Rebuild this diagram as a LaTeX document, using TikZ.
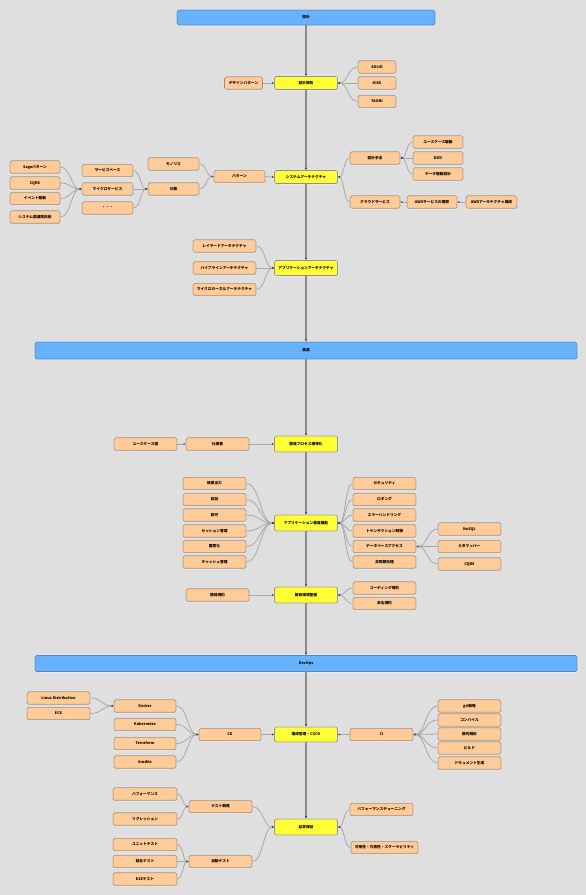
\documentclass[tikz,border=0pt]{standalone}
\usepackage{fontspec}
\setmainfont{Noto Sans CJK JP}
\usetikzlibrary{calc,arrows.meta}
\definecolor{bg}{HTML}{DFDFDF}
\definecolor{barblue}{HTML}{66B2FF}
\definecolor{barline}{HTML}{5A86B8}
\definecolor{keyyellow}{HTML}{FFFF33}
\definecolor{keyline}{HTML}{8E8EA6}
\definecolor{leaforange}{HTML}{FFCC99}
\definecolor{leafline}{HTML}{9A8E82}
\definecolor{halo}{HTML}{F0EEEA}
\definecolor{spinegray}{HTML}{8C8C8C}
\definecolor{conngray}{HTML}{A8A8A8}
\tikzset{
  box/.style={rectangle, rounded corners=1.5pt, draw, line width=0.7pt, inner sep=0pt,
    minimum height=12.5pt, font=\fontsize{3.7}{4}\selectfont\bfseries, text=black,
    preaction={draw=halo, line width=2pt}},
  bar/.style={box, fill=barblue, draw=barline, minimum height=16pt},
  key/.style={box, fill=keyyellow, draw=keyline, minimum width=63pt, minimum height=14.5pt},
  leaf/.style={box, fill=leaforange, draw=leafline, minimum width=63pt},
  spine/.style={draw=spinegray, line width=1.1pt, -{Latex[length=2.4pt,width=2.4pt,color=black!80]}},
  conn/.style={draw=conngray, line width=0.8pt, {Latex[length=2pt,width=2pt,color=black!75]}-},
}
\newcommand\tol[2]{\draw[conn] let \p1=(#1.west), \p2=(#2.east) in
  (\p1) .. controls ({(\x1+\x2)/2},\y1) and ({(\x1+\x2)/2},\y2) .. (\p2);}
\newcommand\tor[2]{\draw[conn] let \p1=(#1.east), \p2=(#2.west) in
  (\p1) .. controls ({(\x1+\x2)/2},\y1) and ({(\x1+\x2)/2},\y2) .. (\p2);}
\begin{document}
\begin{tikzpicture}[x=1pt,y=-1pt]
\fill[bg] (0,0) rectangle (586,895);
\useasboundingbox (0,0) rectangle (586,895);

% ---------------- 設計 ----------------
\node[bar, minimum width=258pt, minimum height=15pt] (d0) at (306,17.5) {設計};
\node[key, minimum height=13pt] (dp) at (306,83) {設計原則};
\node[leaf, minimum width=38pt] (dpat) at (243.5,83) {デザインパターン};
\node[leaf, minimum width=38pt] (solid) at (377,67) {SOLID};
\node[leaf, minimum width=38pt] (kiss) at (377,83) {KISS};
\node[leaf, minimum width=38pt] (yagni) at (377,101.5) {YAGNI};

\node[key, minimum height=13pt] (sa) at (306,177) {システムアーキテクチャ};
\node[leaf, minimum width=51pt] (pat) at (239.5,176.5) {パターン};
\node[leaf, minimum width=51pt] (mono) at (173.5,164) {モノリス};
\node[leaf, minimum width=51pt] (dist) at (173.5,189) {分散};
\node[leaf, minimum width=51pt] (svc) at (107.5,170.5) {サービスベース};
\node[leaf, minimum width=51pt] (micro) at (107.5,189) {マイクロサービス};
\node[leaf, minimum width=51pt] (etc) at (107.5,208) {・・・};
\node[leaf, minimum width=50pt] (saga) at (35,167) {Sagaパターン};
\node[leaf, minimum width=50pt] (cqrsa) at (35,183) {CQRS};
\node[leaf, minimum width=50pt] (event) at (35,198.5) {イベント駆動};
\node[leaf, minimum width=50pt] (renkei) at (35,217) {システム間連携技術};
\node[leaf, minimum width=50pt] (method) at (375,158) {設計手法};
\node[leaf, minimum width=50pt] (ucd) at (438,142) {ユースケース駆動};
\node[leaf, minimum width=50pt] (ddd) at (438,158) {DDD};
\node[leaf, minimum width=50pt] (datad) at (438,174) {データ駆動設計};
\node[leaf, minimum width=50pt] (cloud) at (375,202) {クラウドサービス};
\node[leaf, minimum width=50pt] (aws1) at (432,202) {AWSサービスの理解};
\node[leaf, minimum width=51pt] (aws2) at (491.5,202) {AWSアーキテクチャ構成};

\node[key, minimum height=15pt] (aa) at (306,268) {アプリケーションアーキテクチャ};
\node[leaf] (layer) at (224.5,246) {レイヤードアーキテクチャ};
\node[leaf] (pipe) at (224.5,268) {パイプラインアーキテクチャ};
\node[leaf] (kernel) at (224.5,289.5) {マイクロカーネルアーキテクチャ};

% ---------------- 実装 ----------------
\node[bar, minimum width=542pt, minimum height=17pt] (i0) at (306,350.5) {実装};
\node[key, minimum height=16pt] (proc) at (306,444) {開発プロセス標準化};
\node[leaf] (spec) at (217.5,444) {仕様書};
\node[leaf] (ucdiag) at (145.5,444) {ユースケース図};

\node[key, minimum height=16pt] (base) at (306,523) {アプリケーション基盤機能};
\node[leaf] (l1) at (214.5,483.5) {帳票出力};
\node[leaf] (l2) at (214.5,499.5) {認証};
\node[leaf] (l3) at (214.5,515) {認可};
\node[leaf] (l4) at (214.5,531) {セッション管理};
\node[leaf] (l5) at (214.5,546.5) {国際化};
\node[leaf] (l6) at (214.5,562) {キャッシュ管理};
\node[leaf] (r1) at (384.5,483.5) {セキュリティ};
\node[leaf] (r2) at (384.5,499.5) {ロギング};
\node[leaf] (r3) at (384.5,515) {エラーハンドリング};
\node[leaf] (r4) at (384.5,531) {トランザクション制御};
\node[leaf] (r5) at (384.5,546.5) {データベースアクセス};
\node[leaf] (r6) at (384.5,562) {非同期処理};
\node[leaf] (nosql) at (469.5,529) {NoSQL};
\node[leaf] (orm) at (469.5,546.5) {O/Rマッパー};
\node[leaf] (cqrsb) at (469.5,564) {CQRS};

\node[key, minimum height=16pt] (env) at (306,595) {開発環境整備};
\node[leaf] (rule) at (217.5,595) {開発規約};
\node[leaf] (coding) at (384.5,588) {コーディング規約};
\node[leaf] (naming) at (384.5,603.5) {命名規約};

% ---------------- DevOps ----------------
\node[bar, minimum width=542pt, minimum height=16pt] (o0) at (306,663.5) {DevOps};
\node[key, minimum height=15pt] (cicd) at (306,734.5) {構成管理・CI/CD};
\node[leaf, minimum width=62pt] (cd) at (230,734.5) {CD};
\node[leaf, minimum width=62pt] (docker) at (145,706) {Docker};
\node[leaf, minimum width=62pt] (k8s) at (145,724.5) {Kubernetes};
\node[leaf, minimum width=62pt] (tf) at (145,743.5) {Terraform};
\node[leaf, minimum width=62pt] (ans) at (145,762) {Ansible};
\node[leaf] (linux) at (58.5,698) {Linux Distribution};
\node[leaf] (ecs) at (58.5,713.5) {ECS};
\node[leaf] (ci) at (381.5,734.5) {CI};
\node[leaf] (git) at (469.5,706) {git戦略};
\node[leaf] (comp) at (469.5,720) {コンパイル};
\node[leaf] (stat) at (469.5,734) {静的解析};
\node[leaf] (build) at (469.5,748) {ビルド};
\node[leaf] (doc) at (469.5,763) {ドキュメント生成};

\node[key, minimum height=16pt] (qa) at (306,827) {品質保証};
\node[leaf] (tstrat) at (220.5,806.5) {テスト戦略};
\node[leaf, minimum width=64pt] (perf) at (145,794) {パフォーマンス};
\node[leaf, minimum width=64pt] (regr) at (145,819) {リグレッション};
\node[leaf] (auto) at (220.5,861.5) {自動テスト};
\node[leaf, minimum width=64pt] (unit) at (145,844.5) {ユニットテスト};
\node[leaf, minimum width=64pt] (integ) at (145,861.5) {結合テスト};
\node[leaf, minimum width=64pt] (e2e) at (145,879) {E2Eテスト};
\node[leaf] (tune) at (381.5,809.5) {パフォーマンスチューニング};
\node[leaf, minimum width=67pt] (avail) at (384.5,847.5) {可用性・冗長性・スケーラビリティ};

% ---------------- connectors ----------------
\draw[spine] (d0) -- (dp);
\draw[spine] (dp) -- (sa);
\draw[spine] (sa) -- (aa);
\draw[spine] (aa) -- (i0);
\draw[spine] (i0) -- (proc);
\draw[spine] (proc) -- (base);
\draw[spine] (base) -- (env);
\draw[spine] (env) -- (o0);
\draw[spine] (o0) -- (cicd);
\draw[spine] (cicd) -- (qa);

\tol{dp}{dpat}
\tor{dp}{solid}\tor{dp}{kiss}\tor{dp}{yagni}
\tol{sa}{pat}
\tol{pat}{mono}\tol{pat}{dist}
\tol{dist}{svc}\tol{dist}{micro}\tol{dist}{etc}
\tol{micro}{saga}\tol{micro}{cqrsa}\tol{micro}{event}\tol{micro}{renkei}
\tor{sa}{method}\tor{sa}{cloud}
\tor{method}{ucd}\tor{method}{ddd}\tor{method}{datad}
\tor{cloud}{aws1}\tor{aws1}{aws2}
\tol{aa}{layer}\tol{aa}{pipe}\tol{aa}{kernel}

\tol{proc}{spec}\tol{spec}{ucdiag}
\tol{base}{l1}\tol{base}{l2}\tol{base}{l3}\tol{base}{l4}\tol{base}{l5}\tol{base}{l6}
\tor{base}{r1}\tor{base}{r2}\tor{base}{r3}\tor{base}{r4}\tor{base}{r5}\tor{base}{r6}
\tor{r5}{nosql}\tor{r5}{orm}\tor{r5}{cqrsb}
\tol{env}{rule}
\tor{env}{coding}\tor{env}{naming}

\tol{cicd}{cd}
\tol{cd}{docker}\tol{cd}{k8s}\tol{cd}{tf}\tol{cd}{ans}
\tol{docker}{linux}\tol{docker}{ecs}
\tor{cicd}{ci}
\tor{ci}{git}\tor{ci}{comp}\tor{ci}{stat}\tor{ci}{build}\tor{ci}{doc}
\tol{qa}{tstrat}\tol{qa}{auto}
\tol{tstrat}{perf}\tol{tstrat}{regr}
\tol{auto}{unit}\tol{auto}{integ}\tol{auto}{e2e}
\tor{qa}{tune}\tor{qa}{avail}
\end{tikzpicture}
\end{document}
